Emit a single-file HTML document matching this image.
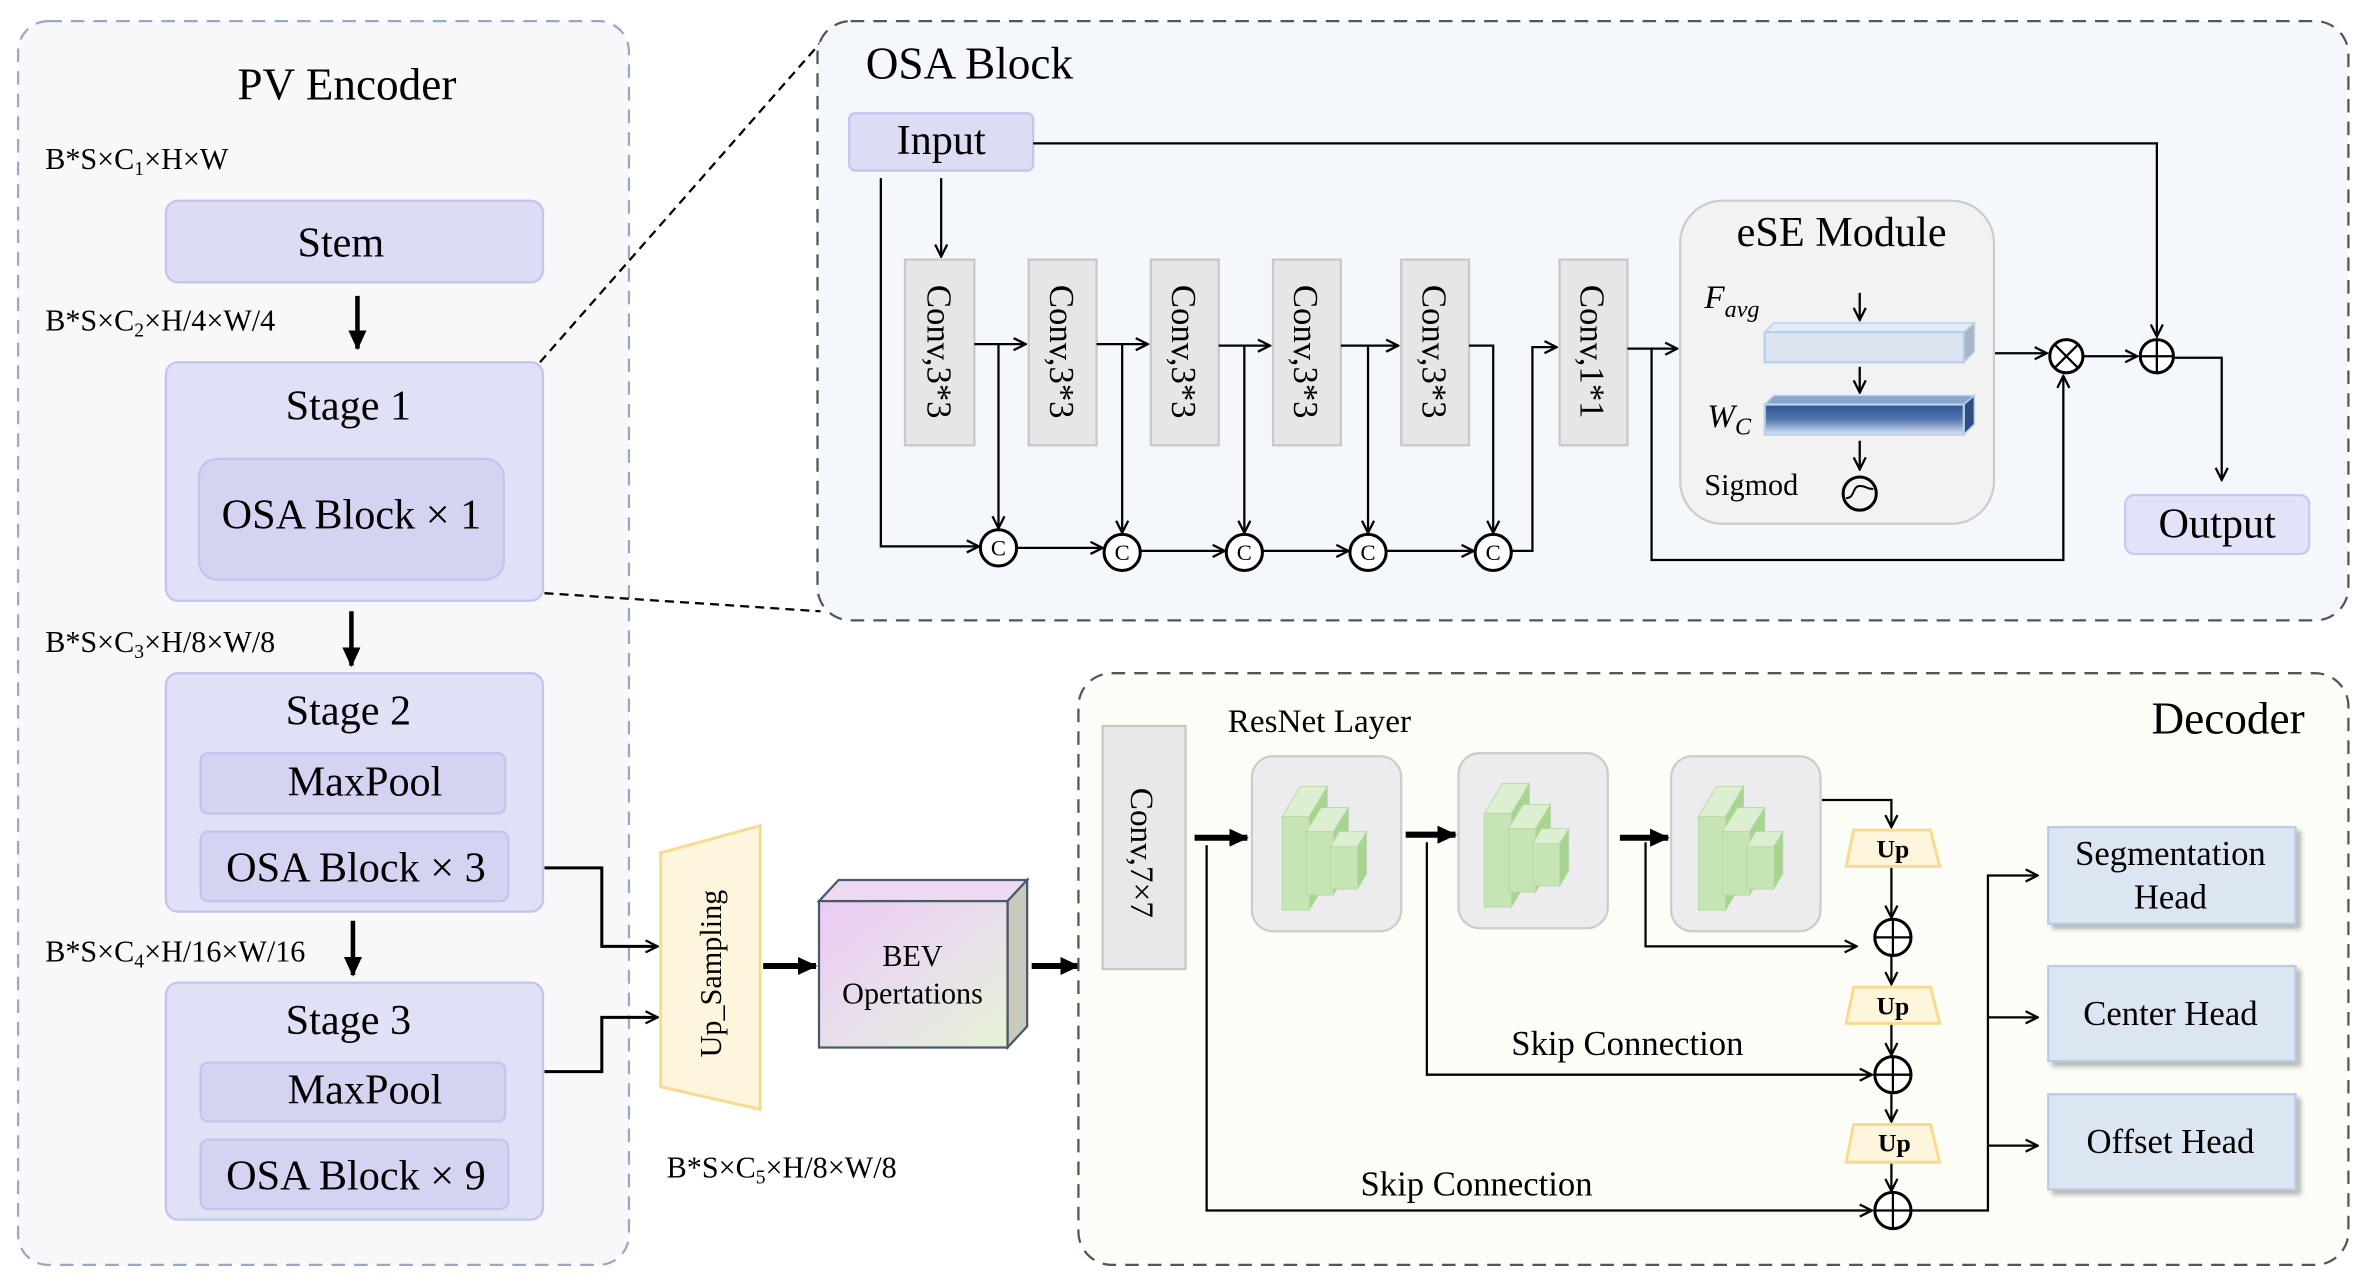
<!DOCTYPE html>
<html><head><meta charset="utf-8"><style>
html,body{margin:0;padding:0;background:#fff;}
svg{display:block;}
text{font-family:"Liberation Serif",serif;fill:#000;}
</style></head><body>
<svg width="2365" height="1286" viewBox="0 0 1568 852" preserveAspectRatio="none" xmlns="http://www.w3.org/2000/svg">
<defs>
<marker id="a" markerWidth="10" markerHeight="10" refX="9" refY="5" orient="auto" markerUnits="userSpaceOnUse"><path d="M1,1 L9,5 L1,9" fill="none" stroke="#000" stroke-width="1.5"/></marker>
<marker id="t" markerWidth="14" markerHeight="14" refX="12" refY="7" orient="auto" markerUnits="userSpaceOnUse"><path d="M0,1 L13,7 L0,13 Z" fill="#000"/></marker>
<linearGradient id="bev" x1="0" y1="0" x2="1" y2="1"><stop offset="0" stop-color="#eccaf4"/><stop offset="0.55" stop-color="#e8e0ea"/><stop offset="1" stop-color="#e6f2d4"/></linearGradient>
<linearGradient id="wc" x1="0" y1="0" x2="0" y2="1"><stop offset="0" stop-color="#2e5592"/><stop offset="0.5" stop-color="#5478b0"/><stop offset="1" stop-color="#d8e4f4"/></linearGradient>
<filter id="sh"><feDropShadow dx="3" dy="3" stdDeviation="1.5" flood-color="#888" flood-opacity="0.6"/></filter>
<g id="blk" stroke="#b8d8a8" stroke-width="0.6">
<polygon points="22,36 34,16 52,16 40,36" fill="#dcefd0"/><polygon points="40,36 52,16 52,78 40,98" fill="#a8d490"/><rect x="22" y="36" width="18" height="62" fill="#c6e4b4"/>
<polygon points="38,46 48,30 66,30 56,46" fill="#dcefd0"/><polygon points="56,46 66,30 66,72 56,88" fill="#a8d490"/><rect x="38" y="46" width="18" height="42" fill="#c6e4b4"/>
<polygon points="54,56 60,46 78,46 72,56" fill="#dcefd0"/><polygon points="72,56 78,46 78,74 72,84" fill="#a8d490"/><rect x="54" y="56" width="18" height="28" fill="#c6e4b4"/>
</g>
</defs>

<!-- PV Encoder -->
<rect x="12" y="14" width="405" height="824" rx="20" fill="#f8f8fa" stroke="#9aa8c8" stroke-width="1.5" stroke-dasharray="9,6"/>
<text x="230" y="66" font-size="30" text-anchor="middle">PV Encoder</text>
<text x="30" y="112" font-size="20">B*S×C<tspan font-size="13" dy="4">1</tspan><tspan dy="-4">×H×W</tspan></text>
<rect x="110" y="133" width="250" height="54" rx="8" fill="#dcdcf4" stroke="#c4c4ec" stroke-width="1.5"/>
<text x="226" y="170" font-size="28" text-anchor="middle">Stem</text>
<text x="30" y="219" font-size="20">B*S×C<tspan font-size="13" dy="4">2</tspan><tspan dy="-4">×H/4×W/4</tspan></text>
<line x1="237" y1="196" x2="237" y2="231" stroke="#000" stroke-width="3" marker-end="url(#t)"/>
<rect x="110" y="240" width="250" height="158" rx="8" fill="#e0e0f6" stroke="#c4c4ec" stroke-width="1.5"/>
<text x="231" y="278" font-size="28" text-anchor="middle">Stage 1</text>
<rect x="132" y="304" width="202" height="80" rx="12" fill="#d4d4f2" stroke="#c4c4ec" stroke-width="1.5"/>
<text x="233" y="350" font-size="28" text-anchor="middle">OSA Block × 1</text>
<line x1="233" y1="405" x2="233" y2="441" stroke="#000" stroke-width="3" marker-end="url(#t)"/>
<text x="30" y="432" font-size="20">B*S×C<tspan font-size="13" dy="4">3</tspan><tspan dy="-4">×H/8×W/8</tspan></text>
<rect x="110" y="446" width="250" height="158" rx="8" fill="#e0e0f6" stroke="#c4c4ec" stroke-width="1.5"/>
<text x="231" y="480" font-size="28" text-anchor="middle">Stage 2</text>
<rect x="133" y="499" width="202" height="40" rx="5" fill="#d4d4f2" stroke="#c4c4ec" stroke-width="1.5"/>
<text x="242" y="527" font-size="28" text-anchor="middle">MaxPool</text>
<rect x="133" y="551" width="204" height="46" rx="5" fill="#d4d4f2" stroke="#c4c4ec" stroke-width="1.5"/>
<text x="236" y="584" font-size="28" text-anchor="middle">OSA Block × 3</text>
<text x="30" y="637" font-size="20">B*S×C<tspan font-size="13" dy="4">4</tspan><tspan dy="-4">×H/16×W/16</tspan></text>
<line x1="234" y1="610" x2="234" y2="646" stroke="#000" stroke-width="3" marker-end="url(#t)"/>
<rect x="110" y="651" width="250" height="157" rx="8" fill="#e0e0f6" stroke="#c4c4ec" stroke-width="1.5"/>
<text x="231" y="685" font-size="28" text-anchor="middle">Stage 3</text>
<rect x="133" y="704" width="202" height="39" rx="5" fill="#d4d4f2" stroke="#c4c4ec" stroke-width="1.5"/>
<text x="242" y="731" font-size="28" text-anchor="middle">MaxPool</text>
<rect x="133" y="755" width="204" height="46" rx="5" fill="#d4d4f2" stroke="#c4c4ec" stroke-width="1.5"/>
<text x="236" y="788" font-size="28" text-anchor="middle">OSA Block × 9</text>

<polyline points="361,575 399,575 399,627 436,627" fill="none" stroke="#000" stroke-width="2" marker-end="url(#a)"/>
<polyline points="361,710 399,710 399,674 436,674" fill="none" stroke="#000" stroke-width="2" marker-end="url(#a)"/>

<!-- Up sampling -->
<polygon points="438,565 504,547 504,735 438,720" fill="#fdf6dc" stroke="#f7dc90" stroke-width="2"/>
<text transform="translate(478,645) rotate(-90)" font-size="20" text-anchor="middle">Up_Sampling</text>
<line x1="506" y1="640" x2="541" y2="640" stroke="#000" stroke-width="4" marker-end="url(#t)"/>
<!-- BEV -->
<polygon points="543,597 556,583 681,583 668,597" fill="#eed8f2" stroke="#4a5a6a" stroke-width="1.5"/>
<polygon points="668,597 681,583 681,680 668,694" fill="#c8cabe" stroke="#4a5a6a" stroke-width="1.5"/>
<rect x="543" y="597" width="125" height="97" fill="url(#bev)" stroke="#4a5a6a" stroke-width="1.5"/>
<text x="605" y="640" font-size="20" text-anchor="middle">BEV</text>
<text x="605" y="665" font-size="20" text-anchor="middle">Opertations</text>
<line x1="684" y1="640" x2="715" y2="640" stroke="#000" stroke-width="4" marker-end="url(#t)"/>
<text x="442" y="780" font-size="20">B*S×C<tspan font-size="13" dy="4">5</tspan><tspan dy="-4">×H/8×W/8</tspan></text>

<!-- Decoder -->
<rect x="715" y="446" width="842" height="392" rx="22" fill="#fdfdf8" stroke="#555" stroke-width="1.5" stroke-dasharray="9,6"/>
<text x="1528" y="486" font-size="30" text-anchor="end">Decoder</text>
<rect x="731" y="481" width="55" height="161" fill="#e8e8e8" stroke="#c8c8c8" stroke-width="1.5"/>
<text transform="translate(750,565) rotate(90)" font-size="22" text-anchor="middle">Conv,7×7</text>
<text x="814" y="485" font-size="22">ResNet Layer</text>
<rect x="830" y="501" width="99" height="116" rx="14" fill="#ececee" stroke="#ccc" stroke-width="1.5"/>
<use href="#blk" x="828" y="505"/>
<rect x="967" y="499" width="99" height="116" rx="14" fill="#ececee" stroke="#ccc" stroke-width="1.5"/>
<use href="#blk" x="962" y="503"/>
<rect x="1108" y="501" width="99" height="116" rx="14" fill="#ececee" stroke="#ccc" stroke-width="1.5"/>
<use href="#blk" x="1104" y="505"/>
<line x1="792" y1="555" x2="827" y2="555" stroke="#000" stroke-width="4" marker-end="url(#t)"/>
<line x1="932" y1="553" x2="965" y2="553" stroke="#000" stroke-width="4" marker-end="url(#t)"/>
<line x1="1074" y1="555" x2="1106" y2="555" stroke="#000" stroke-width="4" marker-end="url(#t)"/>
<g fill="none" stroke="#000" stroke-width="1.5">
<polyline points="800,560 800,802 1241,802" marker-end="url(#a)"/>
<polyline points="946,558 946,712 1241,712" marker-end="url(#a)"/>
<polyline points="1091,558 1091,627 1231,627" marker-end="url(#a)"/>
<polyline points="1208,530 1254,530 1254,548" marker-end="url(#a)"/>
<line x1="1254" y1="574" x2="1254" y2="608" marker-end="url(#a)"/>
<line x1="1254" y1="633" x2="1254" y2="652" marker-end="url(#a)"/>
<line x1="1254" y1="678" x2="1254" y2="699" marker-end="url(#a)"/>
<line x1="1254" y1="724" x2="1254" y2="743" marker-end="url(#a)"/>
<line x1="1254" y1="770" x2="1254" y2="789" marker-end="url(#a)"/>
<polyline points="1268,802 1318,802 1318,580 1351,580" marker-end="url(#a)"/>
<line x1="1318" y1="674" x2="1351" y2="674" marker-end="url(#a)"/>
<line x1="1318" y1="759" x2="1351" y2="759" marker-end="url(#a)"/>
</g>
<text x="1002" y="699" font-size="23">Skip Connection</text>
<text x="902" y="792" font-size="23">Skip Connection</text>
<g stroke="#f7dc90" stroke-width="2" fill="#fdf6dc">
<polygon points="1229,550 1280,550 1286,574 1224,574"/>
<polygon points="1229,654 1280,654 1286,678 1224,678"/>
<polygon points="1229,745 1280,745 1286,770 1224,770"/>
</g>
<g font-size="17" font-weight="bold" text-anchor="middle"><text x="1255" y="568">Up</text><text x="1255" y="672">Up</text><text x="1256" y="763">Up</text></g>
<g fill="#fff" stroke="#000" stroke-width="2">
<circle cx="1255" cy="621" r="12"/><circle cx="1255" cy="712" r="12"/><circle cx="1255" cy="802" r="12"/>
</g>
<g stroke="#000" stroke-width="1.5"><path d="M1243,621h24M1255,609v24M1243,712h24M1255,700v24M1243,802h24M1255,790v24"/></g>
<g filter="url(#sh)" fill="#dce6f2" stroke="#b8cce4" stroke-width="1.5">
<rect x="1358" y="548" width="164" height="64"/>
<rect x="1358" y="640" width="164" height="63"/>
<rect x="1358" y="725" width="164" height="63"/>
</g>
<g font-size="23" text-anchor="middle"><text x="1439" y="573">Segmentation</text><text x="1439" y="602">Head</text><text x="1439" y="679">Center Head</text><text x="1439" y="764">Offset Head</text></g>

<!-- OSA Block -->
<line x1="358" y1="240" x2="546" y2="26" stroke="#000" stroke-width="1.5" stroke-dasharray="6,4"/>
<line x1="361" y1="393" x2="544" y2="405" stroke="#000" stroke-width="1.5" stroke-dasharray="6,4"/>
<rect x="542" y="14" width="1015" height="397" rx="22" fill="#f4f8fc" stroke="#555" stroke-width="1.5" stroke-dasharray="9,6"/>
<text x="574" y="52" font-size="30">OSA Block</text>
<rect x="563" y="75" width="122" height="38" rx="4" fill="#dcdcf4" stroke="#c4c4ec" stroke-width="1.5"/>
<text x="624" y="102" font-size="28" text-anchor="middle">Input</text>
<g fill="#e6e6e6" stroke="#c8c8c8" stroke-width="1.5">
<rect x="600" y="172" width="46" height="123"/><rect x="682" y="172" width="45" height="123"/><rect x="763" y="172" width="45" height="123"/><rect x="844" y="172" width="45" height="123"/><rect x="929" y="172" width="45" height="123"/><rect x="1034" y="172" width="45" height="123"/>
</g>
<g font-size="23" text-anchor="middle">
<text transform="translate(615,233) rotate(90)">Conv,3*3</text>
<text transform="translate(696,233) rotate(90)">Conv,3*3</text>
<text transform="translate(777,233) rotate(90)">Conv,3*3</text>
<text transform="translate(858,233) rotate(90)">Conv,3*3</text>
<text transform="translate(943,233) rotate(90)">Conv,3*3</text>
<text transform="translate(1048,233) rotate(90)">Conv,1*1</text>
</g>
<g fill="none" stroke="#000" stroke-width="1.5">
<polyline points="685,95 1430,95 1430,223" marker-end="url(#a)"/>
<line x1="624" y1="118" x2="624" y2="170" marker-end="url(#a)"/>
<polyline points="584,118 584,362 649,362" marker-end="url(#a)"/>
<line x1="646" y1="228" x2="680" y2="228" marker-end="url(#a)"/>
<line x1="662" y1="228" x2="662" y2="350" marker-end="url(#a)"/>
<line x1="727" y1="228" x2="761" y2="228" marker-end="url(#a)"/>
<line x1="744" y1="228" x2="744" y2="353" marker-end="url(#a)"/>
<line x1="808" y1="229" x2="842" y2="229" marker-end="url(#a)"/>
<line x1="825" y1="229" x2="825" y2="353" marker-end="url(#a)"/>
<line x1="889" y1="229" x2="927" y2="229" marker-end="url(#a)"/>
<line x1="907" y1="229" x2="907" y2="353" marker-end="url(#a)"/>
<polyline points="974,229 990,229 990,353" marker-end="url(#a)"/>
<line x1="674" y1="363" x2="731" y2="363" marker-end="url(#a)"/>
<line x1="756" y1="365" x2="812" y2="365" marker-end="url(#a)"/>
<line x1="837" y1="365" x2="894" y2="365" marker-end="url(#a)"/>
<line x1="919" y1="365" x2="977" y2="365" marker-end="url(#a)"/>
<polyline points="1002,365 1016,365 1016,230 1032,230" marker-end="url(#a)"/>
<line x1="1079" y1="231" x2="1112" y2="231" marker-end="url(#a)"/>
<polyline points="1095,231 1095,371 1368,371 1368,249" marker-end="url(#a)"/>
<line x1="1322" y1="234" x2="1357" y2="234" marker-end="url(#a)"/>
<line x1="1381" y1="236" x2="1417" y2="236" marker-end="url(#a)"/>
<polyline points="1442,237 1473,237 1473,318" marker-end="url(#a)"/>
</g>
<g fill="#fff" stroke="#000" stroke-width="2">
<circle cx="662" cy="363" r="12"/><circle cx="744" cy="366" r="12"/><circle cx="825" cy="366" r="12"/><circle cx="907" cy="366" r="12"/><circle cx="990" cy="366" r="12"/>
</g>
<g font-size="15" text-anchor="middle"><text x="662" y="368">C</text><text x="744" y="371">C</text><text x="825" y="371">C</text><text x="907" y="371">C</text><text x="990" y="371">C</text></g>
<!-- eSE -->
<rect x="1114" y="133" width="208" height="214" rx="28" fill="#f2f2f2" stroke="#ccc" stroke-width="1.5"/>
<text x="1221" y="163" font-size="28" text-anchor="middle">eSE Module</text>
<text x="1130" y="204" font-size="22" font-style="italic">F<tspan font-size="16" dy="6">avg</tspan></text>
<polygon points="1170,220 1176,214 1309,214 1302,220" fill="#e4ecf6" stroke="#b8d0ea"/>
<polygon points="1302,220 1309,214 1309,233 1302,240" fill="#aab4c4" stroke="#b8d0ea"/>
<rect x="1170" y="220" width="132" height="20" fill="#dce4f2" stroke="#b8d0ea" stroke-width="1.5"/>
<text x="1132" y="283" font-size="22" font-style="italic">W<tspan font-size="16" dy="5">C</tspan></text>
<polygon points="1170,268 1176,262 1309,262 1302,268" fill="#8aa4cc" stroke="#b8d0ea"/>
<polygon points="1302,268 1309,262 1309,281 1302,288" fill="#2e4c80" stroke="#b8d0ea"/>
<rect x="1170" y="268" width="132" height="20" fill="url(#wc)" stroke="#b8d0ea" stroke-width="1.5"/>
<text x="1130" y="328" font-size="20">Sigmod</text>
<circle cx="1233" cy="327" r="11" fill="none" stroke="#000" stroke-width="2"/>
<path d="M1224,330 C1230,330 1228,322 1233,322 C1238,322 1237,324 1242,324" fill="none" stroke="#000" stroke-width="1.3"/>
<g fill="none" stroke="#000" stroke-width="1.5">
<line x1="1233" y1="194" x2="1233" y2="212" marker-end="url(#a)"/>
<line x1="1233" y1="243" x2="1233" y2="260" marker-end="url(#a)"/>
<line x1="1233" y1="292" x2="1233" y2="311" marker-end="url(#a)"/>
</g>
<circle cx="1370" cy="236" r="11" fill="#fff" stroke="#000" stroke-width="2"/>
<path d="M1362,228L1378,244M1378,228L1362,244" stroke="#000" stroke-width="1.5"/>
<circle cx="1430" cy="236" r="11" fill="#fff" stroke="#000" stroke-width="2"/>
<path d="M1419,236h22M1430,225v22" stroke="#000" stroke-width="1.5"/>
<rect x="1409" y="328" width="122" height="39" rx="6" fill="#e2e2f8" stroke="#c8c8f0" stroke-width="1.5"/>
<text x="1470" y="356" font-size="28" text-anchor="middle">Output</text>
</svg>
</body></html>
